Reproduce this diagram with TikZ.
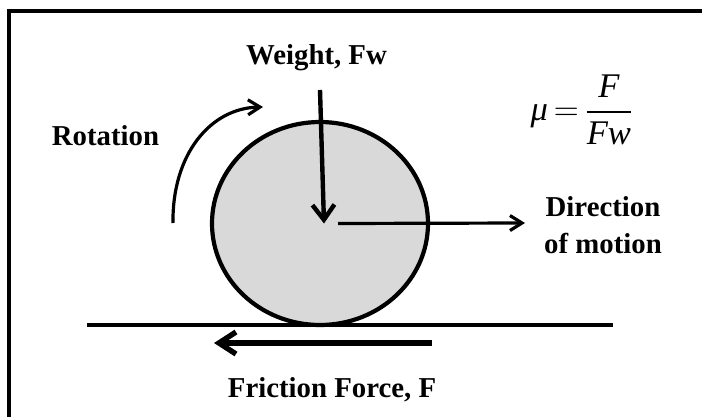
\documentclass[tikz,border=0pt]{standalone}
\usepackage{amsmath}
\usepackage{fontspec}
\setmainfont{Liberation Serif}
\usetikzlibrary{shapes.geometric, arrows.meta, positioning}
\definecolor{wheelgray}{HTML}{D9D9D9}

\begin{document}
\begin{tikzpicture}[
    x=0.5pt, y=-0.5pt,
    txt/.style={font=\fontsize{14.4}{17.3}\selectfont\bfseries, inner sep=0pt, anchor=base},
    wheel/.style={ellipse, draw, line width=2.1pt, fill=wheelgray, minimum width=108pt, minimum height=101.5pt, inner sep=0pt},
    force/.style={-{Straight Barb[length=7.5pt, width=11pt]}, line width=2.2pt},
    thinarrow/.style={-{Straight Barb[length=6pt, width=7.5pt]}, line width=1.6pt},
    friction/.style={-{Straight Barb[length=8.5pt, width=11pt]}, line width=2.7pt}
]
    \useasboundingbox (0,0) rectangle (702,417);
    \draw[line width=1.7pt] (9,417) -- (9,11) -- (702,11);

    \node[wheel] (wheel) at (320,223.5) {};
    \draw[line width=1.6pt] (87,325) -- (613,325);

    \node[txt] (weight) at (316.5,65) {Weight, Fw};
    \node[txt] (rotation) at (105.5,146) {Rotation};
    \node[txt] (direction) at (603,217) {Direction};
    \node[txt] (motion) at ([yshift=-18pt]direction.base) {of motion};
    \node[txt] (frictionlbl) at (332,397) {Friction Force, F};
    \node[font=\fontsize{17.28}{20}\selectfont, inner sep=0pt] (ratio) at (582,109.5)
        {$\textit{μ}\,{=}\,\dfrac{\textit{F}}{\textit{Fw}}$};

    \coordinate (weight top) at (320,90);
    \coordinate (motion tip) at (525,223);
    \coordinate (friction start) at (432,343);
    \coordinate (friction tip) at (214,343);
    \coordinate (spin start) at (173,223);
    \coordinate (spin tip) at (263,107);

    \draw[force] (weight top) -- ([xshift=2pt]wheel.center);
    \draw[thinarrow] ([xshift=9pt]wheel.center) -- (motion tip);
    \draw[friction] (friction start) -- (friction tip);
    \draw[thinarrow] (spin start) .. controls (172,155) and (210,108) .. (spin tip);
\end{tikzpicture}
\end{document}
